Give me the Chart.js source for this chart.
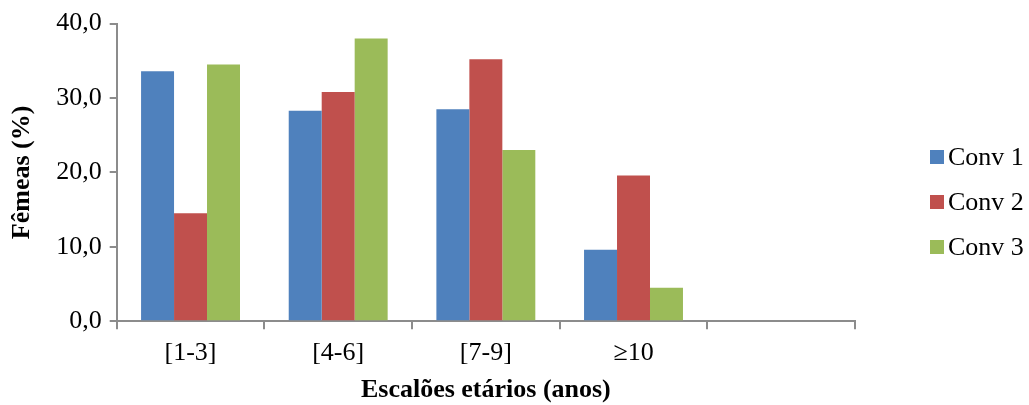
<!DOCTYPE html>
<html>
<head>
<meta charset="utf-8">
<script src="https://cdn.jsdelivr.net/npm/chart.js@4"></script>
<style>
  body { margin: 0; background: #fff; }
  #wrap { position: relative; width: 1029px; height: 405px; }
  #legend { position: absolute; left: 930px; top: 0; font-family: "Liberation Serif", serif; font-size: 26px; color: #000; }
  #legend div { position: absolute; white-space: nowrap; display: flex; align-items: center; height: 30px; line-height: 30px; }
  #legend span.box { display: inline-block; width: 14px; height: 14px; margin-right: 4px; }
</style>
</head>
<body>
<div id="wrap">
  <canvas id="grafico" width="1029" height="405"></canvas>
  <div id="legend"></div>
</div>
<script>
// dados
const escaloes = ['[1-3]', '[4-6]', '[7-9]', '\u226510', ''];
const conv1 = [33.6, 28.3, 28.5, 9.6, null];
const conv2 = [14.5, 30.8, 35.2, 19.6, null];
const conv3 = [34.5, 38.0, 23.0, 4.5, null];
const series = ['Conv 1', 'Conv 2', 'Conv 3'];
const cores = ['#4F81BD', '#C0504D', '#9BBB59'];

const fonte = 'Liberation Serif';
const cinza = '#8c8c8c';

const dados = {
  labels: escaloes,
  datasets: [conv1, conv2, conv3].map((v, i) => ({
    label: series[i],
    data: v,
    backgroundColor: cores[i],
    borderWidth: 0,
    categoryPercentage: 0.67,
    barPercentage: 1.0
  }))
};

const ctx = document.getElementById('grafico').getContext('2d');
const grafico = new Chart(ctx, {
  type: 'bar',
  data: dados,
  options: {
    responsive: false,
    animation: false,
    layout: { padding: { top: 2, right: 174, bottom: 0, left: 7 } },
    plugins: {
      legend: { display: false },
      tooltip: { enabled: false }
    },
    scales: {
      x: {
        grid: { display: true, drawOnChartArea: false, drawTicks: true, tickLength: 8, color: cinza, lineWidth: 2, offset: true },
        border: { display: true, color: cinza, width: 2 },
        ticks: { color: '#000', font: { family: fonte, size: 26 }, padding: 8, maxRotation: 0 },
        title: { display: true, text: 'Escalões etários (anos)', color: '#000', font: { family: fonte, size: 26, weight: 'bold', lineHeight: 1.1 }, padding: { top: 0, bottom: 0 } }
      },
      y: {
        min: 0,
        max: 40,
        grid: { display: true, drawOnChartArea: false, drawTicks: true, tickLength: 7, color: cinza, lineWidth: 2 },
        border: { display: true, color: cinza, width: 2 },
        ticks: {
          stepSize: 10,
          color: '#000',
          font: { family: fonte, size: 26 },
          padding: 8,
          callback: (v) => v.toFixed(1).replace('.', ',')
        },
        title: { display: true, text: 'Fêmeas (%)', color: '#000', font: { family: fonte, size: 26, weight: 'bold' }, padding: { top: 0, bottom: 10 } }
      }
    }
  }
});

// legenda em html
const legenda = document.getElementById('legend');
grafico.data.datasets.forEach((ds, i) => {
  const item = document.createElement('div');
  item.style.top = (142 + i * 45) + 'px';
  item.innerHTML = '<span class="box" style="background:' + ds.backgroundColor + '"></span>' + ds.label;
  legenda.appendChild(item);
});
</script>
</body>
</html>
